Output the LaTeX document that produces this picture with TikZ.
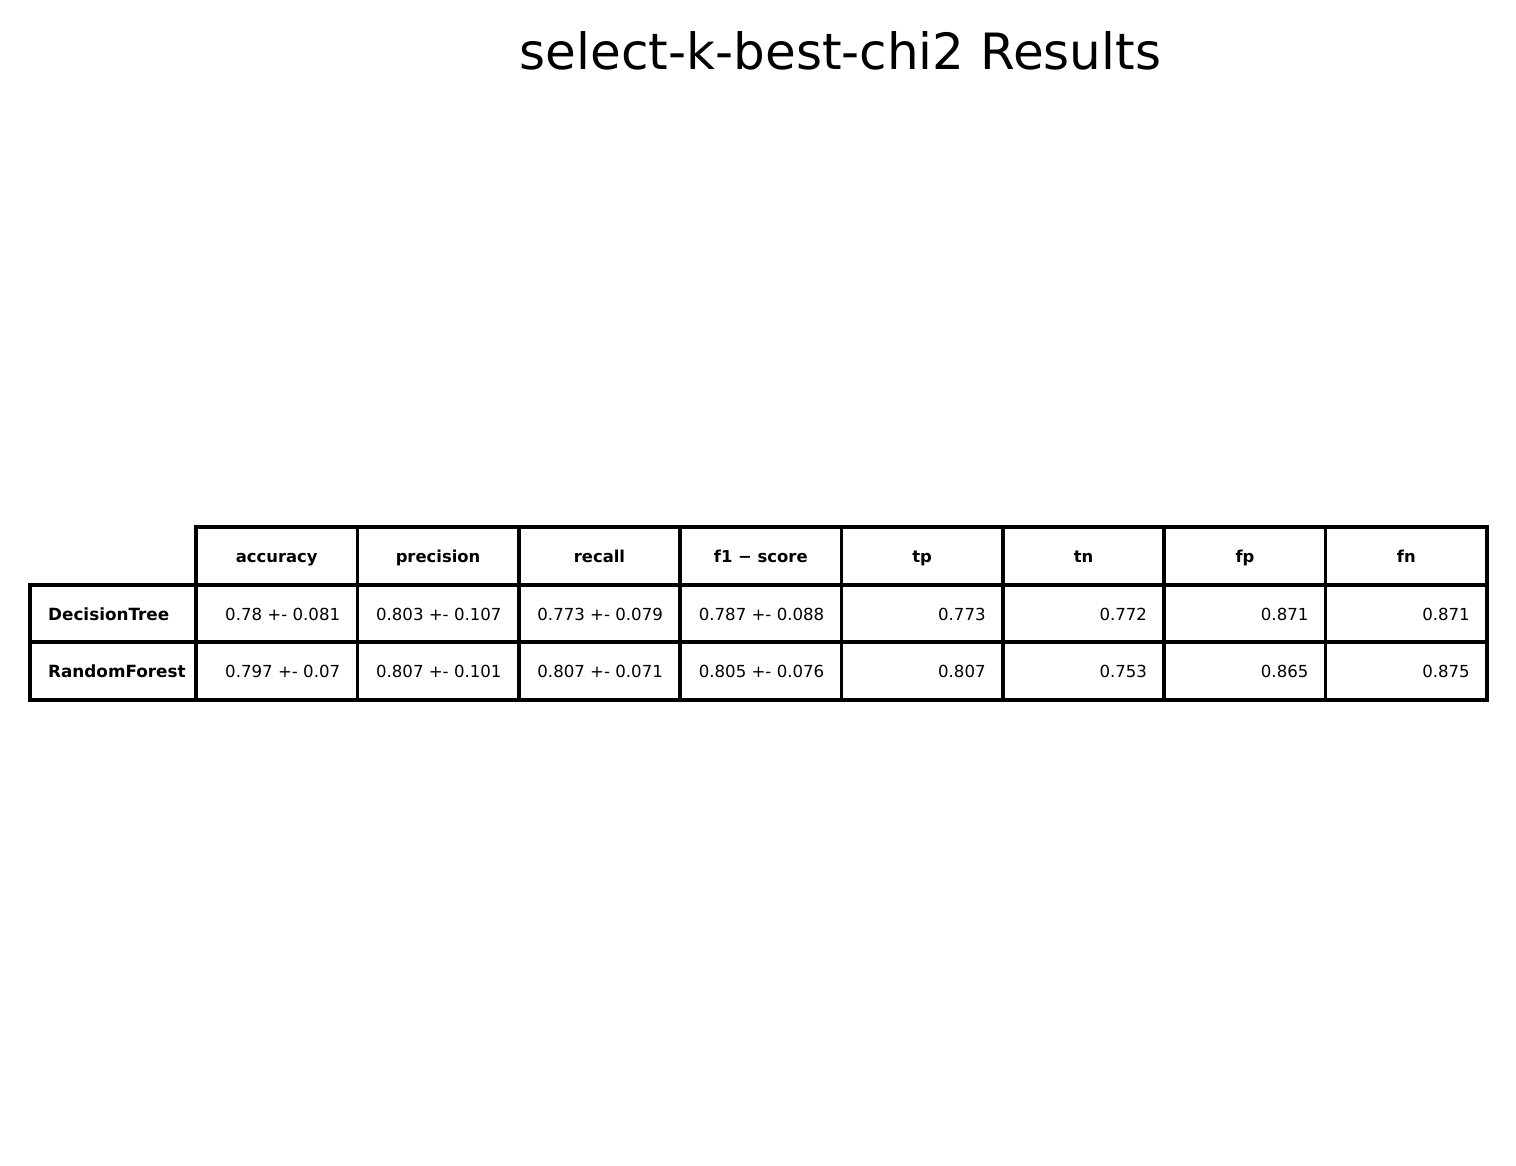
\documentclass[tikz,border=0pt]{standalone}
\usepackage{fontspec}
\setmainfont{DejaVu Sans}
\begin{document}
\begin{tikzpicture}[x=1pt,y=-1pt,
  cellline/.style={line width=3.6pt, line cap=rect, line join=miter},
  hdr/.style={anchor=base, font=\fontsize{16.4}{19}\selectfont\bfseries},
  val/.style={anchor=base east, font=\fontsize{16.6}{19}\selectfont},
  rowlbl/.style={anchor=base west, font=\fontsize{16.8}{19}\selectfont\bfseries}]
\useasboundingbox (0,0) rectangle (1516,1166);
\node[anchor=base, font=\fontsize{50}{60}\selectfont, inner sep=0pt] (title) at (840.5,70) {select-k-best-chi2 Results};
% grid
\draw[cellline] (196,527) rectangle (1487,585);
\draw[cellline] (30,585) rectangle (1487,700);
\draw[cellline] (30,642) -- (1487,642);
\draw[cellline] (196,527) -- (196,700);
\foreach \i in {1,...,7} {
  \draw[cellline] ({196+\i*161.375},527) -- ({196+\i*161.375},700);
}
% header
\foreach \t [count=\i] in {accuracy,precision,recall,f1 − score,tp,tn,fp,fn} {
  \node[hdr, inner sep=0pt] (h\i) at ({196+(\i-0.5)*161.375},562) {\t};
}
% row labels
\node[rowlbl, inner sep=0pt] (r1) at (48,620) {DecisionTree};
\node[rowlbl, inner sep=0pt] (r2) at (48,677) {RandomForest};
% row 1
\foreach \t [count=\i] in {0.78 +- 0.081,0.803 +- 0.107,0.773 +- 0.079,0.787 +- 0.088,0.773,0.772,0.871,0.871} {
  \node[val, inner sep=0pt] (a\i) at ({196+\i*161.375-17},620) {\t};
}
% row 2
\foreach \t [count=\i] in {0.797 +- 0.07,0.807 +- 0.101,0.807 +- 0.071,0.805 +- 0.076,0.807,0.753,0.865,0.875} {
  \node[val, inner sep=0pt] (b\i) at ({196+\i*161.375-17},677) {\t};
}
\end{tikzpicture}
\end{document}
